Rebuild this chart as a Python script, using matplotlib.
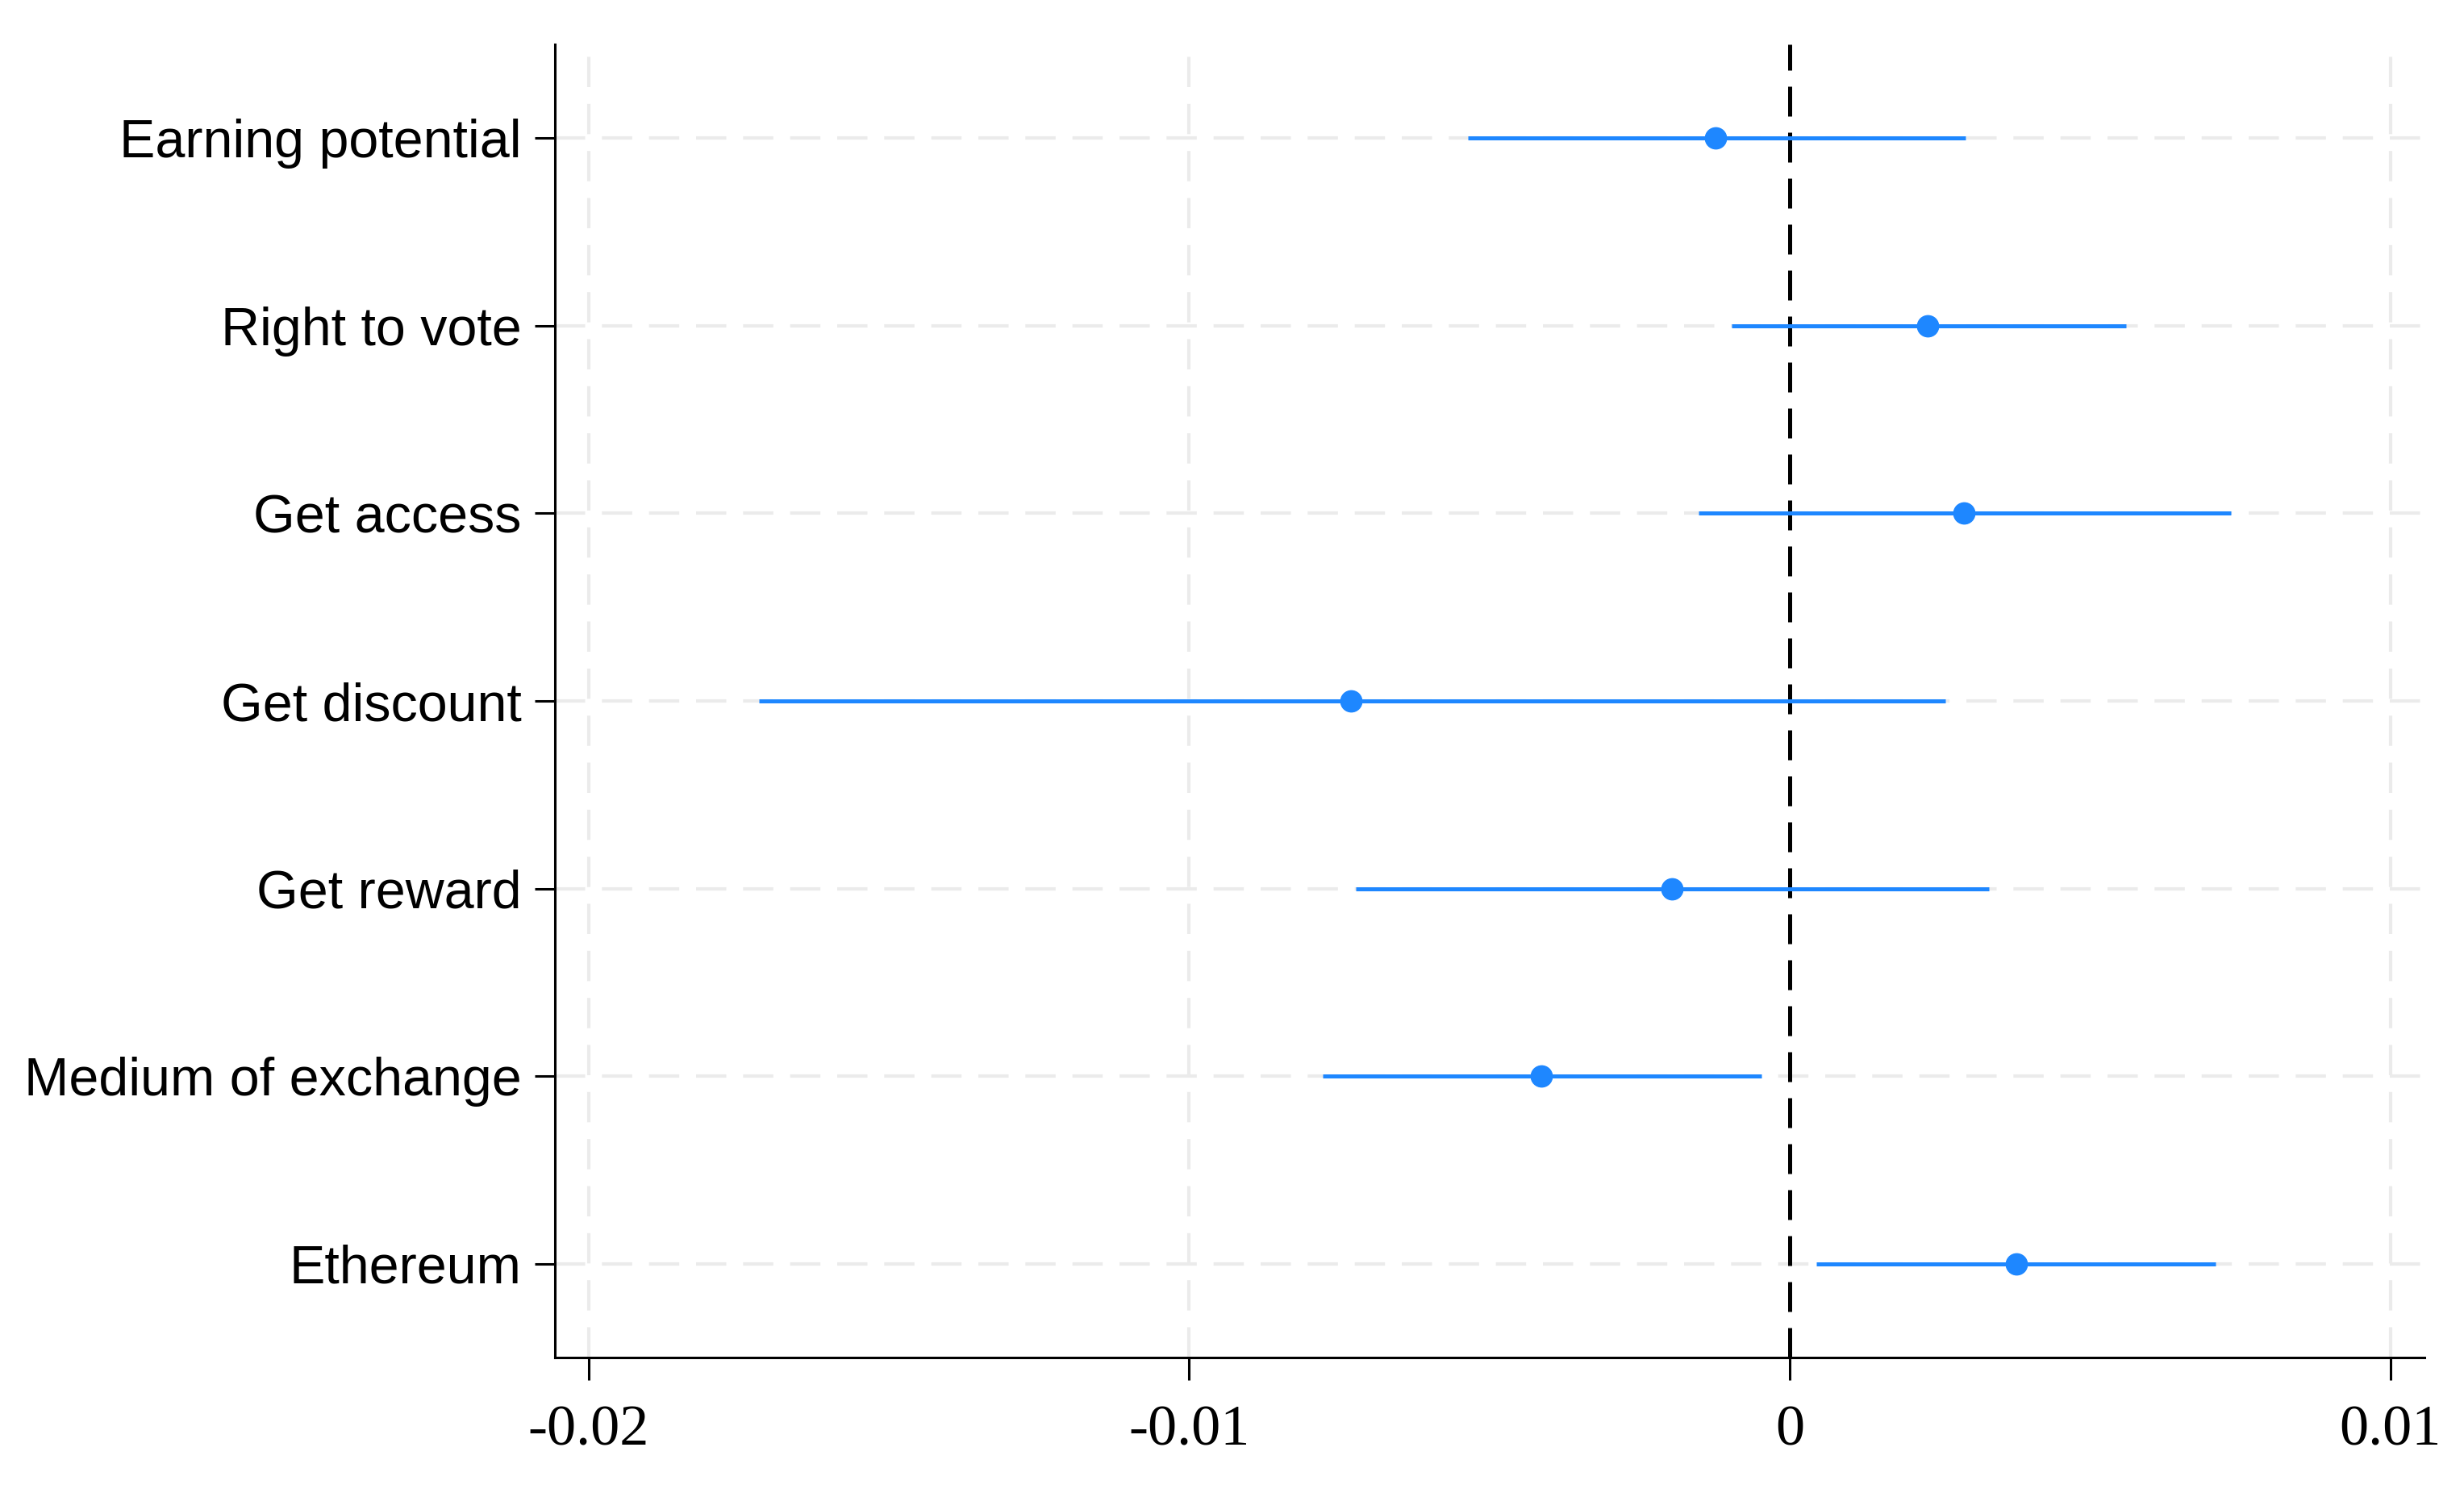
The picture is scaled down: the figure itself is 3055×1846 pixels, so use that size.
import numpy as np
import matplotlib.pyplot as plt

labels = ["Earning potential", "Right to vote", "Get access", "Get discount",
          "Get reward", "Medium of exchange", "Ethereum"]
coef = [-0.00123, 0.0023, 0.0029, -0.0073, -0.00196, -0.00413, 0.00377]
ci_low = [-0.00536, -0.00097, -0.00152, -0.01716, -0.00722, -0.00777, 0.00044]
ci_high = [0.00293, 0.0056, 0.00735, 0.00259, 0.00332, -0.00047, 0.00709]
xticks = [-0.02, -0.01, 0, 0.01]
xticklabels = ["-0.02", "-0.01", "0", "0.01"]

blue = "#1E87FF"
grid_col = "#ebebeb"

fig = plt.figure(figsize=(30.55, 18.46), dpi=100)
ax = fig.add_axes([0.2252, 0.0883, 0.984 - 0.2252, 0.9702 - 0.0883])

ypos = np.arange(len(labels))[::-1]

# grid lines
for x in xticks:
    if x != 0:
        ax.axvline(x, color=grid_col, lw=3, dashes=(9, 5), zorder=0)
for y in ypos:
    ax.axhline(y, color=grid_col, lw=3, dashes=(9, 5), zorder=0)

ax.axvline(0, color="black", lw=3.6, dashes=(7.4, 4), zorder=1)

ax.hlines(ypos, ci_low, ci_high, color=blue, lw=3.6, zorder=2)
ax.plot(coef, ypos, "o", color=blue, ms=19, zorder=3)

ax.set_xlim(-0.02056, 0.01057)
ax.set_ylim(-0.5, 6.5)

ax.set_yticks(ypos)
ax.set_yticklabels(labels, fontsize=47.8, family="Liberation Sans")
ax.set_xticks(xticks)
ax.set_xticklabels(xticklabels, fontsize=52, family="Liberation Serif")

ax.tick_params(axis="y", length=18, width=2.2, pad=12)
ax.tick_params(axis="x", length=20, width=2.2, pad=22)

ax.spines["top"].set_visible(False)
ax.spines["right"].set_visible(False)
ax.spines["left"].set_linewidth(2.2)
ax.spines["bottom"].set_linewidth(2.2)

fig.savefig("out.png", dpi=100)
